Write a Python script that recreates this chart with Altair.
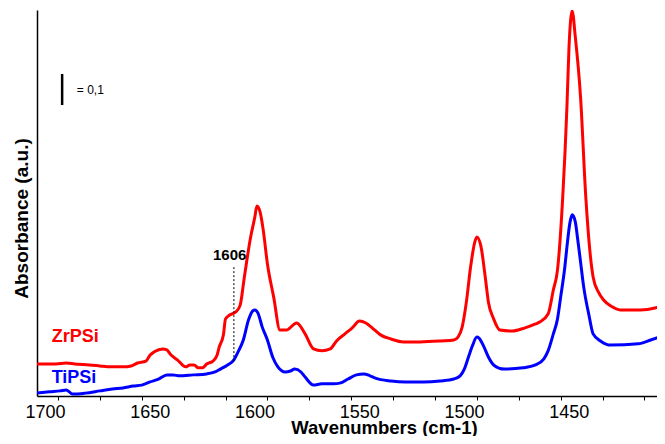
import altair as alt
import pandas as pd

# ---- data (wavenumber cm-1, absorbance a.u.) ----
red_wn = [1700, 1691, 1686, 1682, 1675, 1670, 1665, 1659, 1655, 1652, 1648, 1646, 1644,
          1640, 1638, 1636, 1633, 1629, 1627, 1625, 1623, 1621, 1619, 1616, 1614, 1613,
          1611, 1610, 1608, 1605, 1603, 1601, 1598, 1596, 1595, 1593.5, 1592, 1590, 1587,
          1584, 1581, 1576, 1572, 1568, 1564, 1560, 1557, 1553, 1549.5, 1546, 1543, 1540,
          1536, 1531, 1525, 1517, 1507, 1501, 1499, 1497, 1495, 1493, 1491, 1490, 1488,
          1486, 1484.5, 1482, 1479, 1473, 1467, 1462, 1460, 1456, 1453.5, 1451.5, 1449,
          1447, 1446, 1444.5, 1443, 1440.5, 1438, 1436, 1434.5, 1432, 1429.5, 1426,
          1421.5, 1412, 1405, 1400]
red_abs = [0.100, 0.100, 0.103, 0.100, 0.097, 0.094, 0.091, 0.091, 0.094, 0.103, 0.109,
           0.128, 0.138, 0.147, 0.144, 0.128, 0.113, 0.091, 0.097, 0.097, 0.088, 0.088,
           0.100, 0.109, 0.128, 0.153, 0.191, 0.241, 0.253, 0.263, 0.284, 0.372, 0.497,
           0.559, 0.594, 0.575, 0.519, 0.413, 0.309, 0.206, 0.206, 0.228, 0.194, 0.147,
           0.141, 0.147, 0.172, 0.194, 0.213, 0.234, 0.228, 0.213, 0.191, 0.178, 0.169,
           0.169, 0.172, 0.175, 0.184, 0.216, 0.294, 0.403, 0.481, 0.497, 0.466, 0.372,
           0.294, 0.241, 0.206, 0.203, 0.213, 0.225, 0.231, 0.256, 0.331, 0.394, 0.622,
           0.903, 1.091, 1.203, 1.122, 0.934, 0.622, 0.450, 0.372, 0.325, 0.300, 0.281,
           0.269, 0.269, 0.275, 0.288]

blue_wn = [1700, 1694, 1689, 1686, 1683, 1677, 1670, 1664, 1659, 1654, 1650, 1646, 1642,
           1638, 1635, 1632, 1625.5, 1619, 1615, 1612.5, 1609, 1606, 1604, 1601.5, 1599,
           1597, 1596, 1594.5, 1592.5, 1590, 1587.5, 1585, 1581.5, 1579, 1577, 1574, 1572,
           1568, 1564, 1558.5, 1555, 1551.5, 1547.5, 1544, 1541, 1538.5, 1531, 1524,
           1515.5, 1507.5, 1501, 1498, 1496, 1494, 1492, 1490, 1489, 1487, 1484.5, 1482,
           1477, 1468, 1462, 1458, 1456, 1453.5, 1451.5, 1450, 1448, 1447, 1445.5, 1444.5,
           1443, 1442, 1440.5, 1439, 1436.5, 1434.5, 1431, 1426, 1413, 1407, 1400]
blue_abs = [0.009, 0.013, 0.016, 0.019, 0.006, 0.009, 0.016, 0.022, 0.025, 0.031, 0.034,
            0.044, 0.053, 0.066, 0.066, 0.063, 0.066, 0.069, 0.075, 0.084, 0.097, 0.113,
            0.138, 0.175, 0.238, 0.266, 0.269, 0.259, 0.216, 0.175, 0.122, 0.091, 0.075,
            0.078, 0.084, 0.075, 0.059, 0.034, 0.038, 0.038, 0.041, 0.053, 0.066, 0.069,
            0.063, 0.056, 0.047, 0.044, 0.044, 0.047, 0.053, 0.063, 0.084, 0.122, 0.159,
            0.184, 0.181, 0.159, 0.122, 0.097, 0.084, 0.088, 0.097, 0.116, 0.141, 0.194,
            0.241, 0.309, 0.403, 0.466, 0.544, 0.566, 0.544, 0.497, 0.419, 0.341, 0.253,
            0.194, 0.172, 0.159, 0.163, 0.175, 0.191]

x_ticks = [1410, 1420, 1430, 1440, 1450, 1460, 1470, 1480, 1490, 1500, 1510, 1520,
           1530, 1540, 1550, 1560, 1570, 1580, 1590, 1600, 1610, 1620, 1630, 1640, 1650,
           1660, 1670, 1680, 1690, 1700]
x_labels = [1450, 1500, 1550, 1600, 1650, 1700]

series_names = ["ZrPSi", "TiPSi"]
series_colors = ["#ff0000", "#0000ff"]

FONT = "Liberation Sans"
PLOT_H = 386

df = pd.concat([
    pd.DataFrame({"wn": red_wn, "abs": red_abs, "sample": "ZrPSi"}),
    pd.DataFrame({"wn": blue_wn, "abs": blue_abs, "sample": "TiPSi"}),
])

xscale = alt.Scale(domain=[1404, 1700], reverse=True, nice=False, zero=False)
yscale = alt.Scale(domain=[0, 1.206], nice=False, zero=True)

xaxis = alt.Axis(
    values=x_ticks, labels=False,
    grid=False, domainColor="black", domainWidth=1.5,
    tickColor="black", tickSize=4, tickWidth=1,
    title="Wavenumbers (cm-1)", titleFont=FONT, titleFontSize=18.5, titleFontWeight="bold",
    titleColor="black", titleX=347, titleY=37, titleBaseline="alphabetic", titleAlign="center",
)
yaxis = alt.Axis(
    ticks=False, labels=False, grid=False, domainColor="black", domainWidth=1.5,
    title="Absorbance (a.u.)", titleFont=FONT, titleFontSize=19, titleFontWeight="bold",
    titleColor="black", titleX=-10, titleY=208, titleBaseline="alphabetic",
    titleAlign="center", titleAngle=270,
)

lines = alt.Chart(df).mark_line(strokeWidth=3, interpolate="monotone", clip=True).encode(
    x=alt.X("wn:Q", scale=xscale, axis=xaxis),
    y=alt.Y("abs:Q", scale=yscale, axis=yaxis),
    color=alt.Color("sample:N", scale=alt.Scale(domain=series_names, range=series_colors), legend=None),
    detail="sample:N",
)

# tick labels (drawn slightly right of their ticks, as in the reference)
tick_lab = alt.Chart(pd.DataFrame({"v": x_labels})).mark_text(
    align="center", baseline="alphabetic", font=FONT, fontSize=18, color="black", dx=8.5
).encode(x=alt.X("v:Q", scale=xscale), y=alt.value(PLOT_H + 22), text=alt.Text("v:Q", format="d"))

# scale bar
bar_df = pd.DataFrame({"x": [1688], "y": [0.909], "y2": [1.006]})
bar = alt.Chart(bar_df).mark_rule(strokeWidth=2.5, color="black").encode(
    x=alt.X("x:Q", scale=xscale), y=alt.Y("y:Q", scale=yscale), y2="y2:Q")
bar_txt = alt.Chart(pd.DataFrame({"x": [1681], "y": [0.956], "t": ["= 0,1"]})).mark_text(
    align="left", baseline="middle", font=FONT, fontSize=12, color="black").encode(
    x=alt.X("x:Q", scale=xscale), y=alt.Y("y:Q", scale=yscale), text="t:N")

# 1606 annotation
ann_line = alt.Chart(pd.DataFrame({"x": [1606], "y": [0.109], "y2": [0.409]})).mark_rule(
    strokeWidth=1, strokeDash=[2, 2], color="black").encode(
    x=alt.X("x:Q", scale=xscale), y=alt.Y("y:Q", scale=yscale), y2="y2:Q")
ann_txt = alt.Chart(pd.DataFrame({"x": [1608], "y": [0.425], "t": ["1606"]})).mark_text(
    align="center", baseline="alphabetic", font=FONT, fontSize=15, fontWeight="bold",
    color="black").encode(
    x=alt.X("x:Q", scale=xscale), y=alt.Y("y:Q", scale=yscale), text="t:N")

# series labels
lab_df = pd.DataFrame({"x": [1693, 1693], "y": [0.169, 0.041], "t": series_names})
labels = alt.Chart(lab_df).mark_text(
    align="left", baseline="alphabetic", font=FONT, fontSize=18, fontWeight="bold").encode(
    x=alt.X("x:Q", scale=xscale), y=alt.Y("y:Q", scale=yscale), text="t:N",
    color=alt.Color("t:N", scale=alt.Scale(domain=series_names, range=series_colors), legend=None))

chart = alt.layer(lines, tick_lab, bar, bar_txt, ann_line, ann_txt, labels).properties(
    width=620, height=PLOT_H,
    autosize=alt.AutoSizeParams(type="none"),
    padding={"left": 29, "top": 2, "right": 0, "bottom": 40},
).configure_view(stroke=None).resolve_scale(color="independent")

chart.save("out.html", embed_options={"renderer": "svg", "actions": False})
